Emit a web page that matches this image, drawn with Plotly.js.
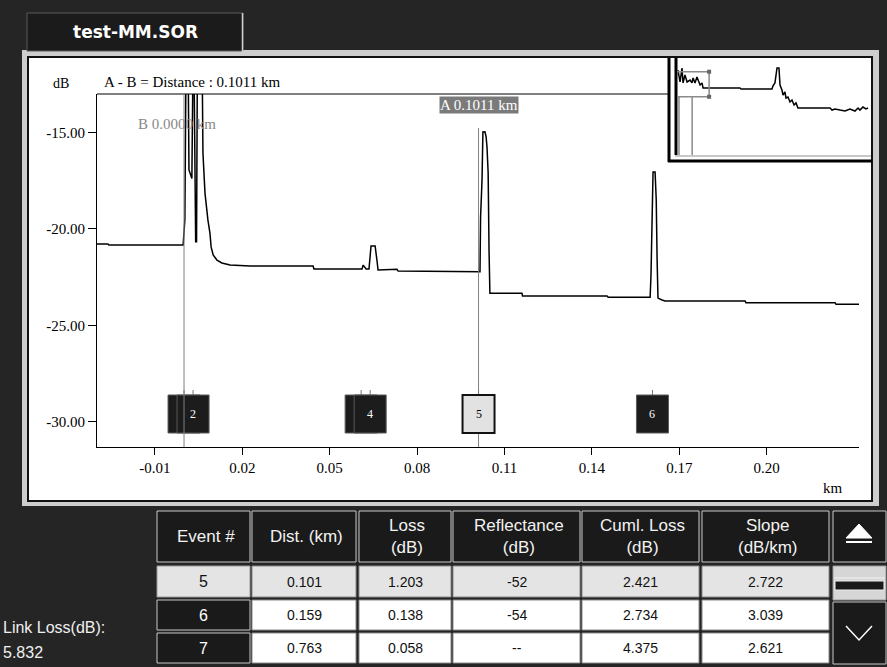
<!DOCTYPE html>
<html><head><meta charset="utf-8">
<script src="https://cdn.plot.ly/plotly-3.0.1.min.js"></script>
<style>html,body{margin:0;padding:0;background:#252525;overflow:hidden}</style>
</head><body><div id="chart" style="width:887px;height:667px"></div>
<script>
// ---------- data ----------
const fileName = 'test-MM.SOR';
const traceKm = [-0.0299,-0.0261,-0.0258,-0.0003,0.0000,0.0003,0.0007,0.0014,0.0017,0.0027,
  0.0031,0.0034,0.0040,0.0043,0.0046,0.0062,0.0065,0.0072,0.0082,0.0089,
  0.0093,0.0100,0.0113,0.0130,0.0158,0.0227,0.0443,0.0446,0.0611,0.0615,
  0.0625,0.0635,0.0642,0.0656,0.0663,0.0666,0.0731,0.0735,0.1016,0.1018,
  0.1023,0.1026,0.1033,0.1037,0.1040,0.1044,0.1047,0.1050,0.1054,0.1160,
  0.1162,0.1452,0.1456,0.1600,0.1603,0.1607,0.1610,0.1617,0.1621,0.1624,
  0.1627,0.1641,0.1651,0.1926,0.1929,0.2235,0.2238,0.2317];
const traceDb = [-20.79,-20.79,-20.84,-20.84,-20.17,-19.50,-11.00,-11.00,-16.95,-17.40,
  -11.00,-11.00,-20.67,-20.67,-11.00,-11.00,-16.07,-18.15,-19.54,-20.22,
  -20.94,-21.36,-21.62,-21.77,-21.88,-21.93,-21.93,-22.08,-22.08,-21.88,
  -22.08,-22.08,-20.89,-20.89,-21.72,-22.13,-22.10,-22.19,-22.22,-19.39,
  -17.47,-14.98,-14.97,-15.24,-15.75,-17.11,-21.10,-23.34,-23.34,-23.34,
  -23.48,-23.48,-23.55,-23.55,-22.39,-19.18,-17.06,-17.06,-18.51,-21.62,
  -23.59,-23.69,-23.74,-23.74,-23.83,-23.83,-23.91,-23.91];
const overviewKm = [-0.008,0.008,0.023,0.031,0.046,0.062,0.085,0.100,0.108,0.123,
  0.138,0.162,0.177,0.185,0.200,0.469,0.477,0.715,0.723,0.738,
  0.754,0.769,0.777,0.792,0.800,0.815,0.823,0.838,0.854,0.869,
  0.885,0.900,0.915,1.162,1.177,1.200,1.238,1.277,1.315,1.354,
  1.377,1.392,1.415,1.438,1.454];
const overviewDb = [-11.8,-20.5,-10.3,-21.2,-15.4,-20.5,-19.1,-21.2,-17.6,-21.2,
  -16.9,-22.7,-21.2,-24.9,-24.9,-24.9,-25.6,-25.6,-23.4,-21.2,
  -10.3,-10.3,-22.7,-26.4,-30.0,-27.8,-32.2,-31.5,-35.1,-33.7,
  -37.3,-35.8,-39.5,-39.5,-41.0,-40.2,-41.0,-41.7,-40.2,-41.7,
  -39.5,-41.0,-38.8,-40.2,-39.5];
const xTickVals = [-0.01,0.02,0.05,0.08,0.11,0.14,0.17,0.20];
const xTickText = ['-0.01','0.02','0.05','0.08','0.11','0.14','0.17','0.20'];
const yTickVals = [-15,-20,-25,-30];
const yTickText = ['-15.00','-20.00','-25.00','-30.00'];
const cursorA = 0.1011;
const cursorB = 0.0000;
const markerEventIds = [1,2,3,4,5,6];
const markerEventKm = [0.0000,0.0031,0.0608,0.0639,0.1011,0.1608];
const selectedEvent = 5;
const tableHeaders = ['Event #','Dist. (km)','Loss<br>(dB)','Reflectance<br>(dB)','Cuml. Loss<br>(dB)','Slope<br>(dB/km)'];
const tableEvent = ['5','6','7'];
const tableDist = ['0.101','0.159','0.763'];
const tableLoss = ['1.203','0.138','0.058'];
const tableRefl = ['-52','-54','--'];
const tableCuml = ['2.421','2.734','4.375'];
const tableSlope = ['2.722','3.039','2.621'];
const linkLossLabel = 'Link Loss(dB):';
const linkLoss = '5.832';

// ---------- layout helpers (pixel -> paper) ----------
const W = 887, H = 667;
const X = x => x / W;
const Y = y => 1 - y / H;
const shapes = [];
const ann = [];
function rect(x0, y0, x1, y1, fill, line, lw, layer) {
  shapes.push({type:'rect', xref:'paper', yref:'paper', x0:X(x0), x1:X(x1), y0:Y(y1), y1:Y(y0),
    fillcolor:fill, line:{color:line||fill, width:lw===undefined?1:lw}, layer:layer||'above'});
}
function hline(x0, x1, y, color, w) {
  shapes.push({type:'line', xref:'paper', yref:'paper', x0:X(x0), x1:X(x1), y0:Y(y), y1:Y(y), line:{color, width:w}});
}
function vline(x, y0, y1, color, w) {
  shapes.push({type:'line', xref:'paper', yref:'paper', x0:X(x), x1:X(x), y0:Y(y0), y1:Y(y1), line:{color, width:w}});
}
function text(x, y, t, size, color, family, xanchor) {
  ann.push({xref:'paper', yref:'paper', x:X(x), y:Y(y), text:t, showarrow:false,
    xanchor:xanchor||'center', yanchor:'middle', font:{size, color, family}});
}
const SERIF = 'Liberation Serif, Times New Roman, serif';
const SANS = 'Liberation Sans, Arial, sans-serif';

// ---------- frame ----------
rect(22, 50, 879, 506, '#cdcdcd', '#cdcdcd', 0, 'below');
rect(28, 57, 872, 501, '#ffffff', '#111111', 2, 'below');
rect(27, 13, 243, 51, '#1b1b1b', '#5a5a5a', 1, 'below');
vline(242.5, 13, 52, '#d0d0d0', 1.5);
text(135, 32, '<b>' + fileName + '</b>', 17, '#ffffff', 'DejaVu Sans, sans-serif');

// top axis line of the main plot
hline(97, 668, 94, '#000000', 1);

// inset frame
vline(669, 58, 162, '#000000', 3);
hline(668, 872, 161, '#000000', 3);
hline(675, 871, 156, '#c8c8c8', 2);
vline(676, 58, 155, '#000000', 3);

// inset zoom window and cursors (overview axes)
const xr = [-0.02987, 0.2317], yr = [-31.306, -13.016];
shapes.push({type:'rect', xref:'x2', yref:'y2', x0:xr[0], x1:xr[1], y0:yr[0], y1:yr[1], line:{color:'#8a8a8a', width:1.5}});
[[xr[0], yr[0]], [xr[0], yr[1]], [xr[1], yr[0]], [xr[1], yr[1]]].forEach(p => {
  shapes.push({type:'rect', xref:'x2', yref:'y2', xsizemode:'pixel', ysizemode:'pixel', xanchor:p[0], yanchor:p[1],
    x0:-2, x1:2, y0:-2, y1:2, fillcolor:'#666', line:{width:0}});
});
[cursorB, cursorA].forEach(c => {
  shapes.push({type:'line', xref:'x2', yref:'y2', x0:c, x1:c, y0:yr[0], y1:-73.8, line:{color:'#8a8a8a', width:1.5}});
});

// cursor A line
shapes.push({type:'line', xref:'x', yref:'paper', x0:cursorA, x1:cursorA, y0:Y(447), y1:Y(128), line:{color:'#808080', width:1}});

// event markers
markerEventKm.forEach((km, i) => {
  const id = markerEventIds[i];
  const sel = id === selectedEvent;
  shapes.push({type:'line', xref:'x', yref:'paper', x0:km, x1:km, y0:Y(395), y1:Y(390), line:{color:'#777', width:1}});
  shapes.push({type:'rect', xref:'x', yref:'paper', xsizemode:'pixel', xanchor:km, x0:-16, x1:16,
    y0:Y(433), y1:Y(395), fillcolor: sel ? '#e2e2e2' : '#1c1c1c',
    line:{color: sel ? '#111' : '#5a5a5a', width: sel ? 2 : 1}});
  const next = markerEventKm[i + 1];
  if (next === undefined || next - km > 0.006) {
    ann.push({xref:'x', yref:'paper', x:km, y:Y(414), text:String(id), showarrow:false, yanchor:'middle',
      font:{size:12, color: sel ? '#000' : '#fff', family:SERIF}});
  }
});

// cursor B line
shapes.push({type:'line', xref:'x', yref:'paper', x0:cursorB, x1:cursorB, y0:Y(447), y1:Y(94), line:{color:'#808080', width:1}});

// chart texts
text(61, 84, 'dB', 14, '#000', SERIF);
text(102, 82, 'A - B = Distance : ' + (cursorA - cursorB).toFixed(4) + ' km', 15, '#000', SERIF, 'left');
text(136, 124, 'B ' + cursorB.toFixed(4) + ' km', 15, '#888', SERIF, 'left');
ann.push({xref:'x', yref:'paper', x:cursorA, y:Y(105), yanchor:'middle', text:'A ' + cursorA.toFixed(4) + ' km', showarrow:false,
  bgcolor:'#7a7a7a', borderpad:0, font:{size:15, color:'#fff', family:SERIF}});
text(833, 488, 'km', 15, '#000', SERIF);

// ---------- table ----------
const cols = [[157,250],[252,356],[359,451],[453,580],[582,699],[702,829]];
const headY = [511, 562];
const rowsY = [[566,597],[600,630],[633,663]];
const tableCols = [tableEvent, tableDist, tableLoss, tableRefl, tableCuml, tableSlope];
cols.forEach((c, j) => {
  rect(c[0], headY[0], c[1], headY[1], '#1a1a1a', '#c8c8c8', 1);
  text((c[0]+c[1])/2 + 2, (headY[0]+headY[1])/2, tableHeaders[j], 17, '#f2f2f2', SANS);
});
rowsY.forEach((r, i) => {
  cols.forEach((c, j) => {
    let fill, line, col;
    if (j === 0) {
      const sel = tableEvent[i] === String(selectedEvent);
      fill = sel ? '#e4e4e4' : '#1a1a1a'; line = sel ? '#9a9a9a' : '#c8c8c8'; col = sel ? '#111' : '#fff';
    } else {
      fill = i === 0 ? '#e4e4e4' : '#ffffff'; line = '#8a8a8a'; col = '#111';
    }
    rect(c[0], r[0], c[1], r[1], fill, line, 1);
    text((c[0]+c[1])/2, (r[0]+r[1])/2, tableCols[j][i], j === 0 ? 16 : 14, col, SANS);
  });
});
// scroll buttons
rect(833, 511, 886, 562, '#1a1a1a', '#c8c8c8', 1);
shapes.push({type:'path', xref:'paper', yref:'paper', path:`M ${X(846)} ${Y(538)} L ${X(872)} ${Y(538)} L ${X(859)} ${Y(524)} Z`, fillcolor:'#fff', line:{color:'#fff', width:1}});
rect(846, 541, 872, 543, '#fff', '#fff', 0);
rect(833, 566, 886, 600, '#d6d6d6', '#9a9a9a', 1);
hline(834, 885, 578, '#f4f4f4', 1);
rect(835, 581, 884, 590, '#1a1a1a', '#f0f0f0', 1);
rect(833, 602, 886, 664, '#1a1a1a', '#c8c8c8', 1);
shapes.push({type:'path', xref:'paper', yref:'paper', path:`M ${X(846)} ${Y(626)} L ${X(859)} ${Y(640)} L ${X(872)} ${Y(626)}`, line:{color:'#fff', width:1.5}});

text(1, 627, linkLossLabel, 16, '#f0f0f0', SANS, 'left');
text(1, 652, linkLoss, 16, '#f0f0f0', SANS, 'left');

// ---------- traces ----------
const data = [
  {x: traceKm, y: traceDb, type:'scatter', mode:'lines', line:{color:'#000', width:1.5}, hoverinfo:'skip', xaxis:'x', yaxis:'y'},
  {x: overviewKm, y: overviewDb, type:'scatter', mode:'lines', line:{color:'#000', width:1.5}, hoverinfo:'skip', xaxis:'x2', yaxis:'y2'}
];

const layout = {
  width: W, height: H, margin:{l:0, r:0, t:0, b:0},
  paper_bgcolor:'#252525', plot_bgcolor:'rgba(0,0,0,0)', showlegend:false,
  xaxis:{domain:[X(97), X(859)], range:xr, showline:true, linecolor:'#000', linewidth:1,
    ticks:'outside', ticklen:7, tickcolor:'#000', tickvals:xTickVals, ticktext:xTickText,
    tickfont:{family:SERIF, size:15, color:'#000'}, showgrid:false, zeroline:false, fixedrange:true, anchor:'y'},
  yaxis:{domain:[Y(447), Y(94)], range:yr, showline:true, linecolor:'#000', linewidth:1,
    ticks:'outside', ticklen:8, tickcolor:'#000', tickvals:yTickVals, ticktext:yTickText,
    tickfont:{family:SERIF, size:15, color:'#000'}, showgrid:false, zeroline:false, fixedrange:true, anchor:'x'},
  xaxis2:{domain:[X(677), X(869)], range:[-0.0154, 1.4615], visible:false, anchor:'y2', fixedrange:true},
  yaxis2:{domain:[Y(155), Y(58)], range:[-73.8, -3.0], visible:false, anchor:'x2', fixedrange:true},
  shapes, annotations: ann
};
Plotly.newPlot('chart', data, layout, {staticPlot:true, displayModeBar:false});
</script></body></html>
